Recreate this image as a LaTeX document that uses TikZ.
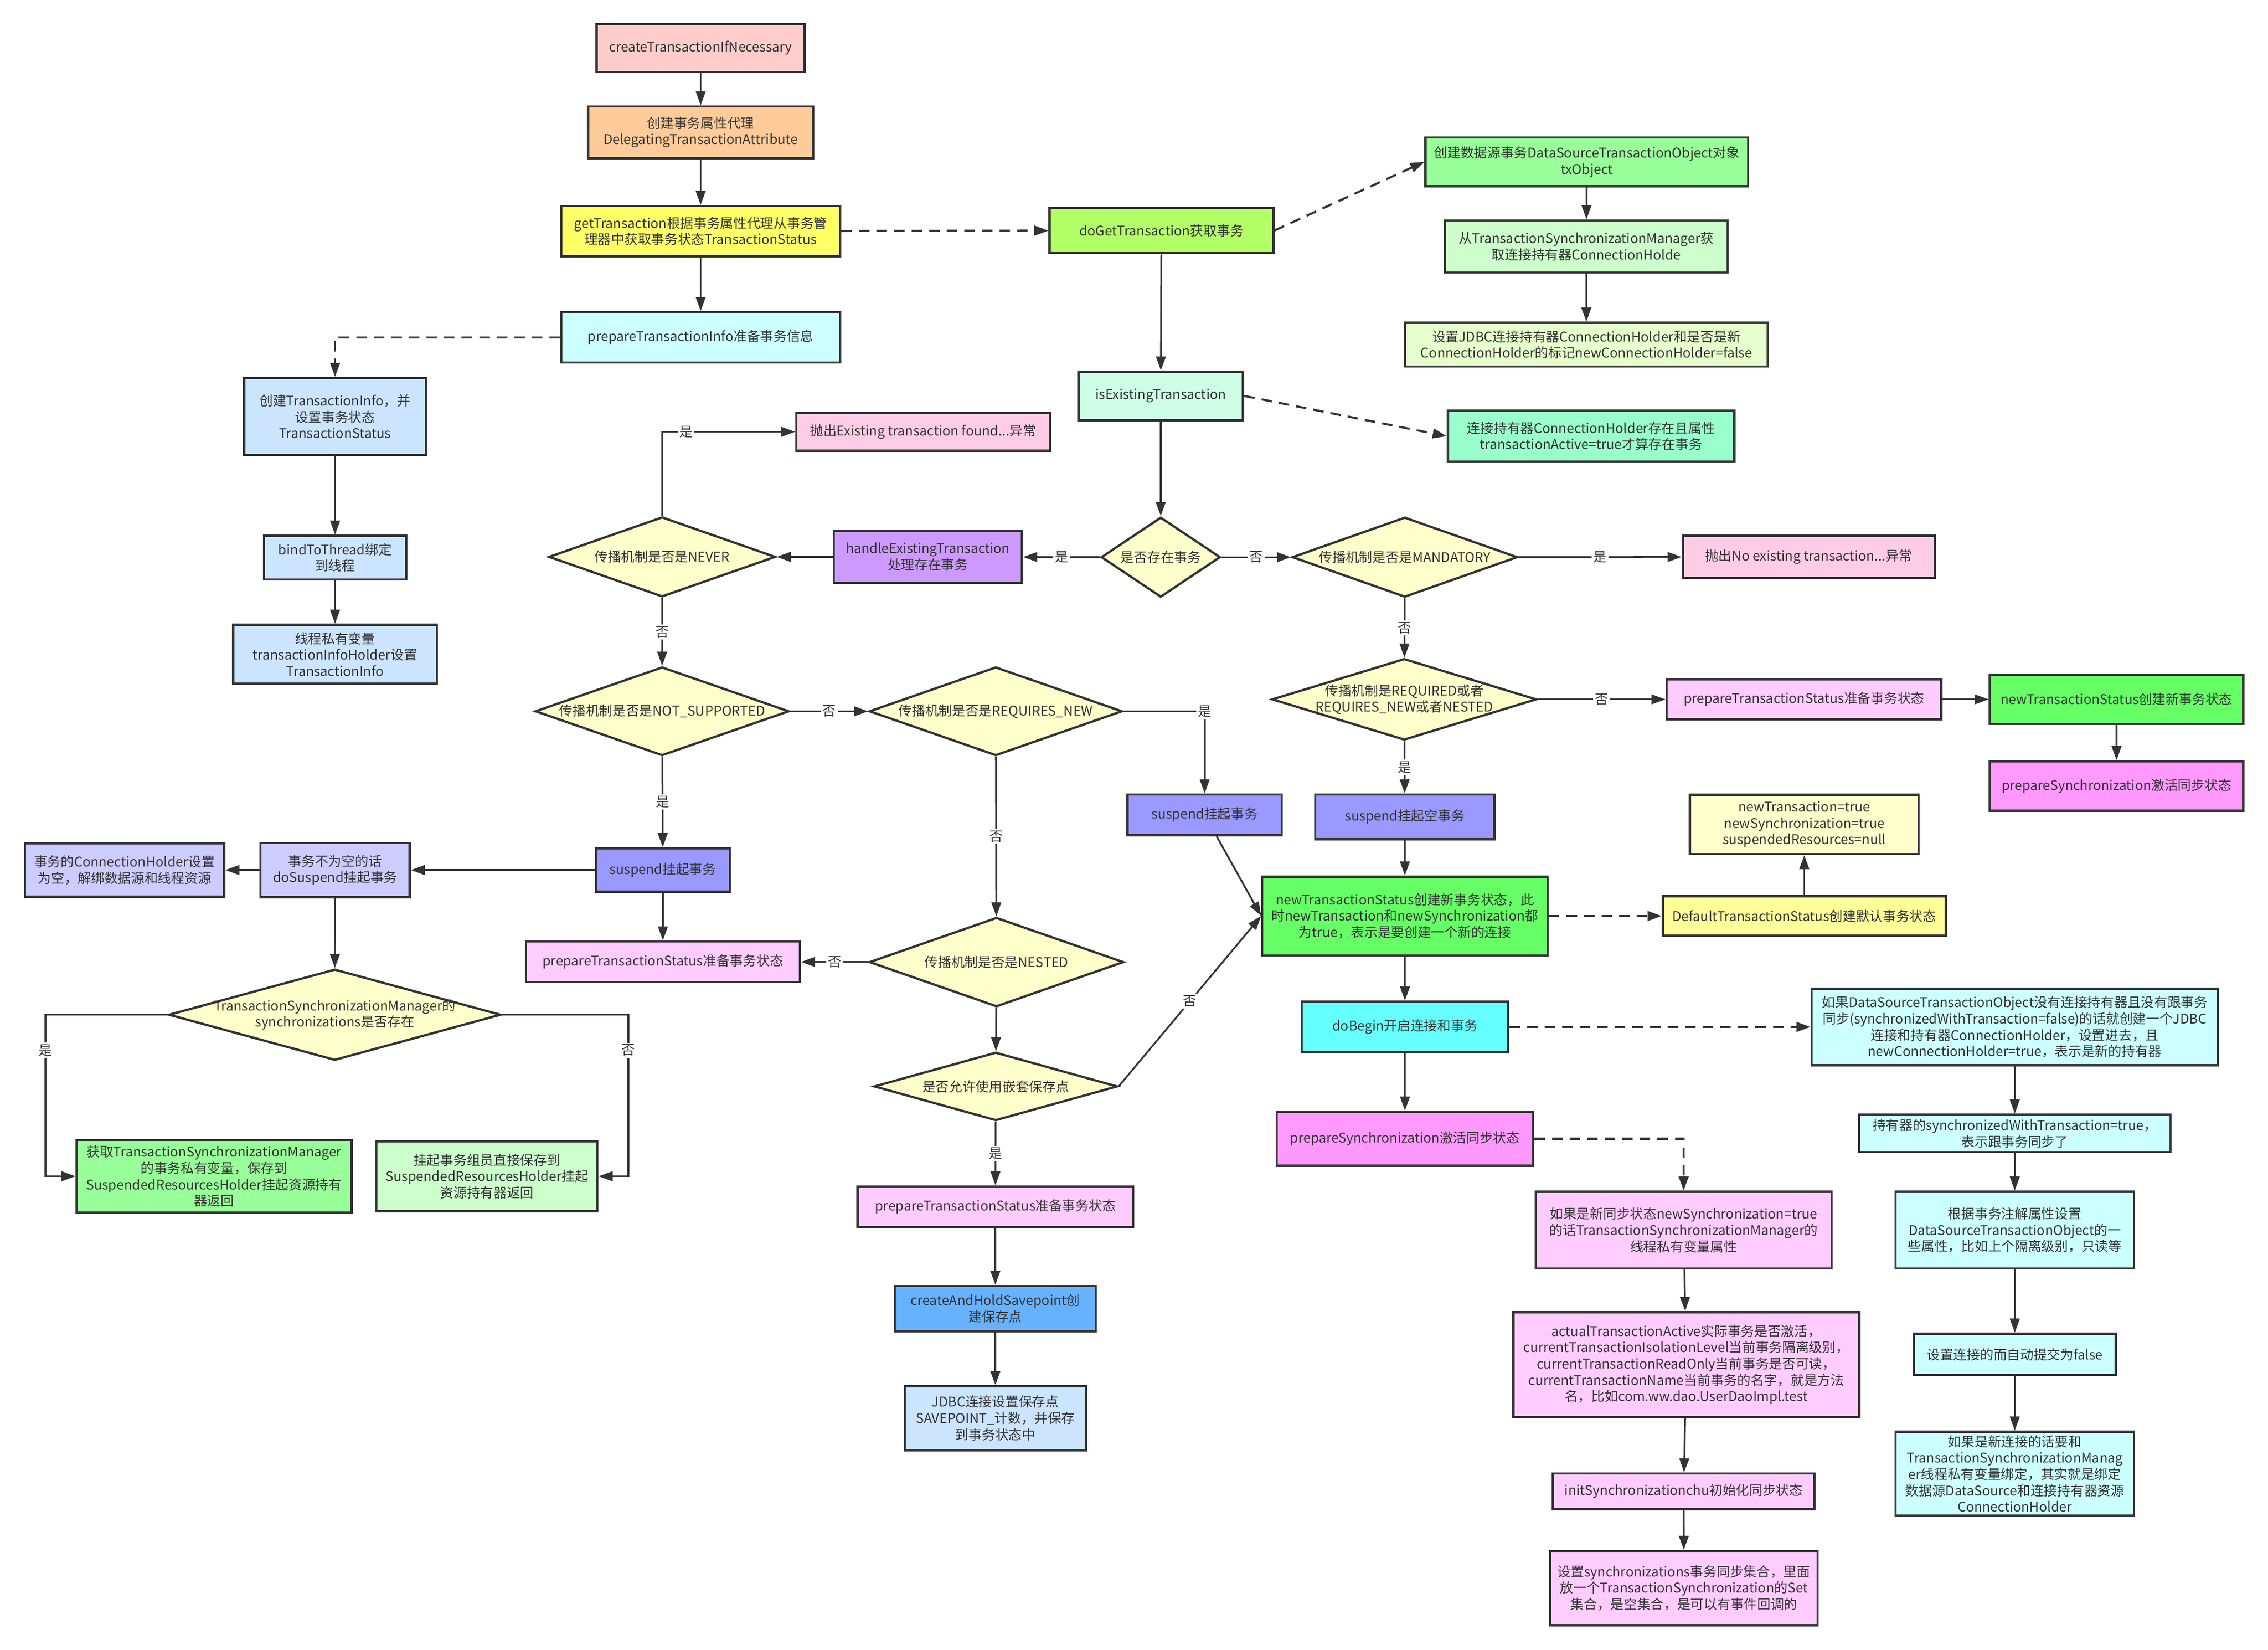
\documentclass[tikz,border=0pt]{standalone}
\usepackage{fontspec}
\setmainfont{Noto Sans CJK SC}
\usepackage{tikz}
\usetikzlibrary{arrows.meta,shapes.geometric}
\definecolor{cLine}{HTML}{333333}
\definecolor{cRose}{HTML}{FFCCCC}
\definecolor{cPeach}{HTML}{FFCC99}
\definecolor{cYellow}{HTML}{FFFF66}
\definecolor{cIce}{HTML}{CCFFFF}
\definecolor{cSky}{HTML}{CCE5FF}
\definecolor{cLime}{HTML}{B3FF66}
\definecolor{cGreen}{HTML}{99FF99}
\definecolor{cPale}{HTML}{CCFFCC}
\definecolor{cCream}{HTML}{E6FFCC}
\definecolor{cMint}{HTML}{CCFFE6}
\definecolor{cAqua}{HTML}{99FFCC}
\definecolor{cCond}{HTML}{FFFFCC}
\definecolor{cBlush}{HTML}{FFCCE6}
\definecolor{cViolet}{HTML}{CC99FF}
\definecolor{cPeri}{HTML}{9999FF}
\definecolor{cOrchid}{HTML}{FFCCFF}
\definecolor{cNeon}{HTML}{66FF66}
\definecolor{cMagenta}{HTML}{FF99FF}
\definecolor{cCyan}{HTML}{66FFFF}
\definecolor{cBlue}{HTML}{66B2FF}
\definecolor{cLemon}{HTML}{FFFF99}
\definecolor{cLilac}{HTML}{CCCCFF}
\newcommand\unitpx{0.02908cm}
\tikzset{
  >={Triangle[length=8pt,width=5.5pt]},
  sz/.style 2 args={minimum width=#1*\unitpx,minimum height=#2*\unitpx},
}
\tikzstyle{every node}=[font=\fontsize{7.6}{9.3}\selectfont]
\tikzstyle{box}=[draw=cLine,line width=1.3pt,align=center,inner xsep=2pt,inner ysep=1pt]
\tikzstyle{cond}=[box,diamond,fill=cCond,inner sep=-2pt]
\tikzstyle{link}=[->,color=cLine,line width=1pt]
\tikzstyle{dline}=[dash pattern=on 6pt off 4pt,line width=1.2pt]
\tikzstyle{lab}=[fill=white,inner sep=1pt]

\begin{document}
\begin{tikzpicture}[x=\unitpx,y=-\unitpx,link]
\path[use as bounding box,fill=white,-] (0,0) rectangle (1560.2,1134.8);
% entry column
\node[box,fill=cRose,sz={143}{33}] (cti) at (482,33) {createTransactionIfNecessary};
\node[box,fill=cPeach,sz={155}{35.5}] (dta) at (482,91) {创建事务属性代理\\DelegatingTransactionAttribute};
\node[box,fill=cYellow,sz={192}{34.5}] (gt) at (482,159) {getTransaction根据事务属性代理从事务管\\理器中获取事务状态TransactionStatus};
\node[box,fill=cIce,sz={192}{34.6}] (pti) at (482,232) {prepareTransactionInfo准备事务信息};
\node[box,fill=cSky,sz={125}{53}] (tinfo) at (230.5,286.5) {创建TransactionInfo，并\\设置事务状态\\TransactionStatus};
\node[box,fill=cSky,sz={98}{30}] (bind) at (230.5,383.5) {bindToThread绑定\\到线程};
\node[box,fill=cSky,sz={140}{40.5}] (holder) at (230.5,450) {线程私有变量\\transactionInfoHolder设置\\TransactionInfo};
% doGetTransaction
\node[box,fill=cLime,sz={154}{31}] (dgt) at (799,158.5) {doGetTransaction获取事务};
\node[box,fill=cGreen,sz={222}{33.4}] (dsto) at (1091.6,111.3) {创建数据源事务DataSourceTransactionObject对象\\txObject};
\node[box,fill=cPale,sz={194.6}{35.8}] (conn) at (1091.2,169.5) {从TransactionSynchronizationManager获\\取连接持有器ConnectionHolde};
\node[box,fill=cCream,sz={249.3}{30}] (setjdbc) at (1091.3,237) {设置JDBC连接持有器ConnectionHolder和是否是新\\ConnectionHolder的标记newConnectionHolder=false};
\node[box,fill=cMint,sz={113.3}{33.4}] (iet) at (798.5,272.3) {isExistingTransaction};
\node[box,fill=cAqua,sz={197}{35}] (cha) at (1094.5,300) {连接持有器ConnectionHolder存在且属性\\transactionActive=true才算存在事务};
% decisions
\node[cond,sz={82}{55},aspect=1.5] (exist) at (798.5,383.2) {是否存在事务};
\node[cond,sz={155}{55},aspect=2.8] (mand) at (966.4,383.2) {传播机制是否是MANDATORY};
\node[box,fill=cBlush,sz={173.4}{29}] (noex) at (1244.3,383) {抛出No existing transaction...异常};
\node[cond,sz={182}{56},aspect=3.25] (req) at (966,481) {传播机制是REQUIRED或者\\REQUIRES\_NEW或者NESTED};
\node[box,fill=cOrchid,sz={189}{27.5}] (pts3) at (1241,481) {prepareTransactionStatus准备事务状态};
\node[box,fill=cNeon,sz={174.4}{34}] (nts2) at (1456,481) {newTransactionStatus创建新事务状态};
\node[box,fill=cMagenta,sz={174.4}{34}] (psync2) at (1456,540.6) {prepareSynchronization激活同步状态};
\node[box,fill=cViolet,sz={129.5}{36}] (handle) at (638.3,383) {handleExistingTransaction\\处理存在事务};
\node[cond,sz={156}{55},aspect=2.8] (never) at (455.5,383) {传播机制是否是NEVER};
\node[box,fill=cBlush,sz={174.6}{26}] (exfound) at (635.1,297) {抛出Existing transaction found...异常};
\node[cond,sz={174.6}{61},aspect=2.9] (notsup) at (455.5,489.2) {传播机制是否是NOT\_SUPPORTED};
\node[cond,sz={174}{61},aspect=2.85] (reqnew) at (685,489.2) {传播机制是否是REQUIRES\_NEW};
\node[box,fill=cPeri,sz={92.2}{30}] (sus1) at (456,598.4) {suspend挂起事务};
\node[box,fill=cOrchid,sz={188.4}{27.8}] (pts1) at (456,661.5) {prepareTransactionStatus准备事务状态};
\node[cond,sz={175}{61.4},aspect=2.85] (nested) at (685.5,661.7) {传播机制是否是NESTED};
\node[cond,sz={167.5}{47},aspect=3.55] (allow) at (685,747.2) {是否允许使用嵌套保存点};
\node[box,fill=cOrchid,sz={189.4}{28}] (pts2) at (684.7,830) {prepareTransactionStatus准备事务状态};
\node[box,fill=cBlue,sz={138.2}{31}] (savep) at (684.7,900) {createAndHoldSavepoint创\\建保存点};
\node[box,fill=cSky,sz={124.6}{44}] (jdbcsp) at (684.7,975.4) {JDBC连接设置保存点\\SAVEPOINT\_计数，并保存\\到事务状态中};
% new transaction
\node[box,fill=cPeri,sz={106}{28}] (sus2) at (828.7,560.4) {suspend挂起事务};
\node[box,fill=cPeri,sz={123.2}{30.8}] (susn) at (966.4,561.8) {suspend挂起空事务};
\node[box,fill=cNeon,sz={196.3}{54.2}] (nts) at (966.5,630) {newTransactionStatus创建新事务状态，此\\时newTransaction和newSynchronization都\\为true，表示是要创建一个新的连接};
\node[box,fill=cLemon,sz={194.7}{27}] (dts) at (1241.2,630) {DefaultTransactionStatus创建默认事务状态};
\node[box,fill=cCond,sz={157.3}{40.7}] (flags) at (1241.2,567) {newTransaction=true\\newSynchronization=true\\suspendedResources=null};
\node[box,fill=cCyan,sz={142.1}{34.7}] (dobegin) at (966.5,706.3) {doBegin开启连接和事务};
\node[box,fill=cMagenta,sz={176.5}{37.2}] (psync) at (966.5,783.2) {prepareSynchronization激活同步状态};
\node[box,fill=cIce,sz={279.5}{52.7}] (ifds) at (1386,706.3) {如果DataSourceTransactionObject没有连接持有器且没有跟事务\\同步(synchronizedWithTransaction=false)的话就创建一个JDBC\\连接和持有器ConnectionHolder，设置进去，且\\newConnectionHolder=true，表示是新的持有器};
\node[box,fill=cIce,sz={214.3}{25.7}] (swt) at (1386,779.5) {持有器的synchronizedWithTransaction=true，\\表示跟事务同步了};
\node[box,fill=cIce,sz={164}{52.8}] (attr) at (1386,846) {根据事务注解属性设置\\DataSourceTransactionObject的一\\些属性，比如上个隔离级别，只读等};
\node[box,fill=cIce,sz={139}{28.3}] (autoc) at (1386,931.5) {设置连接的而自动提交为false};
\node[box,fill=cIce,sz={164}{57.8}] (bindds) at (1386,1013.6) {如果是新连接的话要和\\TransactionSynchronizationManag\\er线程私有变量绑定，其实就是绑定\\数据源DataSource和连接持有器资源\\ConnectionHolder};
\node[box,fill=cOrchid,sz={203.5}{52.8}] (ifnew) at (1158.2,846) {如果是新同步状态newSynchronization=true\\的话TransactionSynchronizationManager的\\线程私有变量属性};
\node[box,fill=cOrchid,sz={238}{72.1}] (actual) at (1160,938.5) {actualTransactionActive实际事务是否激活，\\currentTransactionIsolationLevel当前事务隔离级别，\\currentTransactionReadOnly当前事务是否可读，\\currentTransactionName当前事务的名字，就是方法\\名，比如com.ww.dao.UserDaoImpl.test};
\node[box,fill=cOrchid,sz={180}{24.5}] (initsync) at (1158.2,1025.7) {initSynchronizationchu初始化同步状态};
\node[box,fill=cOrchid,sz={184}{51}] (setsyncs) at (1158.4,1092.2) {设置synchronizations事务同步集合，里面\\放一个TransactionSynchronization的Set\\集合，是空集合，是可以有事件回调的};
% suspend
\node[box,fill=cLilac,sz={137}{36.7}] (chnull) at (85.7,598.4) {事务的ConnectionHolder设置\\为空，解绑数据源和线程资源};
\node[box,fill=cLilac,sz={102.7}{37.3}] (dosus) at (230.5,598.4) {事务不为空的话\\doSuspend挂起事务};
\node[cond,sz={228.6}{62.7},aspect=3.65] (syncq) at (230.3,697.9) {TransactionSynchronizationManager的\\synchronizations是否存在};
\node[box,fill=cGreen,sz={189.2}{50}] (getsync) at (147.3,809) {获取TransactionSynchronizationManager\\的事务私有变量，保存到\\SuspendedResourcesHolder挂起资源持有\\器返回};
\node[box,fill=cPale,sz={152}{48}] (keep) at (335,809) {挂起事务组员直接保存到\\SuspendedResourcesHolder挂起\\资源持有器返回};

\draw (cti) -- (dta);
\draw (dta) -- (gt);
\draw (gt) -- (pti);
\draw[dline] (gt) -- (dgt);
\draw[dline] (pti.west) -| (tinfo.north);
\draw (tinfo) -- (bind);
\draw (bind) -- (holder);
\draw[dline] (dgt.east) -- (dsto.west);
\draw (dsto) -- (conn);
\draw (conn) -- (setjdbc);
\draw (dgt) -- (iet);
\draw[dline] (iet.east) -- (cha.west);
\draw (iet) -- (exist);
\draw (exist) -- node[lab]{是} (handle);
\draw (exist) -- node[lab]{否} (mand);
\draw (mand) -- node[lab]{是} (noex);
\draw (mand) -- node[lab]{否} (req);
\draw (req) -- node[lab]{否} (pts3);
\draw (pts3) -- (nts2);
\draw (nts2) -- (psync2);
\draw (req) -- node[lab]{是} (susn);
\draw (handle) -- (never);
\draw (never.north) |- node[lab,pos=.59]{是} (exfound.west);
\draw (never) -- node[lab]{否} (notsup);
\draw (notsup) -- node[lab]{否} (reqnew);
\draw (notsup) -- node[lab]{是} (sus1);
\draw (sus1) -- (pts1);
\draw (sus1) -- (dosus);
\draw (dosus) -- (chnull);
\draw (dosus) -- (syncq);
\draw (syncq.west) -| node[lab,pos=.61]{是} ([xshift=-20.7*\unitpx]getsync.west) -- (getsync.west);
\draw (syncq.east) -| node[lab,pos=.61]{否} ([xshift=20.4*\unitpx]keep.east) -- (keep.east);
\draw (reqnew) -- node[lab]{否} (nested);
\draw (reqnew.east) -| node[lab,pos=.5]{是} (sus2);
\draw (nested) -- node[lab]{否} (pts1);
\draw (nested) -- (allow);
\draw (allow) -- node[lab]{是} (pts2);
\draw (allow.east) -- node[lab]{否} (nts.west);
\draw (sus2) -- (nts.west);
\draw (pts2) -- (savep);
\draw (savep) -- (jdbcsp);
\draw (susn) -- (nts);
\draw[dline] (nts) -- (dts);
\draw (dts) -- (flags);
\draw (nts) -- (dobegin);
\draw (dobegin) -- (psync);
\draw[dline] (dobegin) -- (ifds);
\draw (ifds) -- (swt);
\draw (swt) -- (attr);
\draw (attr) -- (autoc);
\draw (autoc) -- (bindds);
\draw[dline] (psync.east) -| (ifnew.north);
\draw (ifnew) -- (actual);
\draw (actual) -- (initsync);
\draw (initsync) -- (setsyncs);
\end{tikzpicture}
\end{document}
